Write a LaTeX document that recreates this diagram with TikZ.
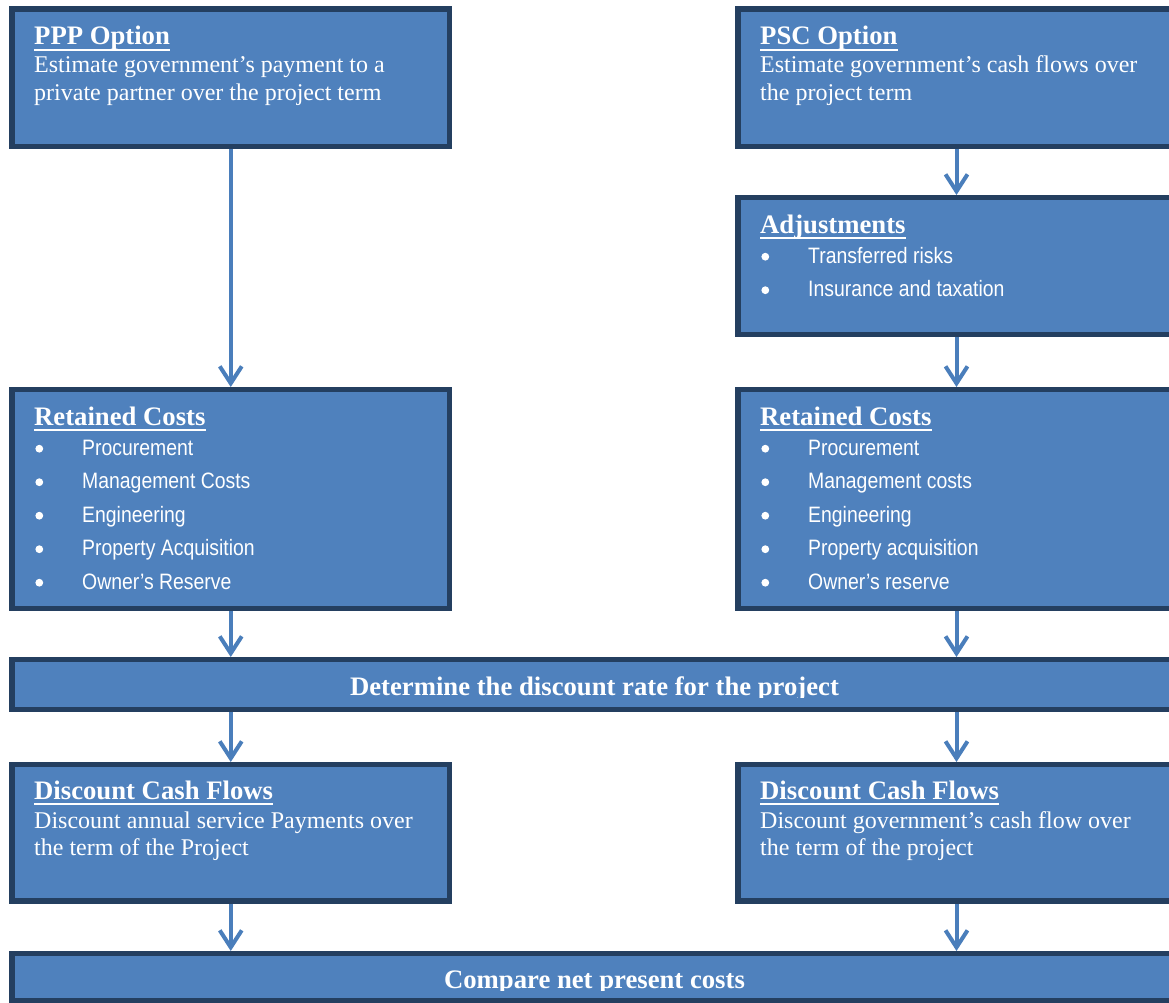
\documentclass[tikz,border=0pt]{standalone}
\usepackage{fontspec}
\setmainfont{Liberation Serif}
\newfontfamily\itemfont[FakeStretch=0.87]{Liberation Sans}
\usetikzlibrary{arrows.meta}
\definecolor{boxfill}{HTML}{4F81BD}
\definecolor{boxline}{HTML}{243F60}
\definecolor{arrowblue}{HTML}{4A7EBB}
\begin{document}
\begin{tikzpicture}[x=1pt,y=-1pt,
  box/.style={draw=boxline, fill=boxfill, line width=5.5pt, rectangle, inner sep=0pt, outer sep=0pt, anchor=north west},
  title/.style={anchor=base west, inner sep=0pt, text=white, font=\bfseries\fontsize{26.7}{30}\selectfont},
  body/.style={anchor=base west, inner sep=0pt, text=white, font=\fontsize{24}{27.5}\selectfont},
  band/.style={anchor=base, inner sep=0pt, text=white, font=\bfseries\fontsize{26.7}{30}\selectfont},
  item/.style={anchor=base west, inner sep=0pt, text=white, font=\itemfont\fontsize{22.3}{26}\selectfont},
  bulletmark/.style={circle, fill=white, inner sep=0pt, minimum size=7.8pt},
  uline/.style={draw=white, line width=2.3pt},
  flow/.style={draw=arrowblue, line width=4pt, -{Straight Barb[length=17pt,width=22pt]}, shorten <=2.75pt, shorten >=2.5pt}
]
\useasboundingbox (0,0) rectangle (1169,1003);
\clip (0,0) rectangle (1169,1003);

% boxes
\node[box, minimum width=437.5, minimum height=137.5] (ppp) at (12,9) {};
\node[box, minimum width=437, minimum height=137.5] (psc) at (738,9) {};
\node[box, minimum width=437, minimum height=137] (adj) at (738,197.5) {};
\node[box, minimum width=437.5, minimum height=219] (retL) at (12,389.5) {};
\node[box, minimum width=437, minimum height=219] (retR) at (738,389.5) {};
\node[box, minimum width=1165, minimum height=50] (rate) at (12,659.5) {};
\node[box, minimum width=437.5, minimum height=136.5] (dcfL) at (12,764.5) {};
\node[box, minimum width=437, minimum height=136.5] (dcfR) at (738,764.5) {};
\node[box, minimum width=1165, minimum height=47.5] (cmp) at (12,953.5) {};

% connectors
\draw[flow] (ppp.south) -- (retL.north);
\draw[flow] (psc.south) -- (adj.north);
\draw[flow] (adj.south) -- (retR.north);
\draw[flow] (retL.south) -- (retL.south |- rate.north);
\draw[flow] (retR.south) -- (retR.south |- rate.north);
\draw[flow] (rate.south -| dcfL.north) -- (dcfL.north);
\draw[flow] (rate.south -| dcfR.north) -- (dcfR.north);
\draw[flow] (dcfL.south) -- (dcfL.south |- cmp.north);
\draw[flow] (dcfR.south) -- (dcfR.south |- cmp.north);

% PPP option
\node[title] (pppT) at (34,45) {PPP Option};
\draw[uline] ([yshift=-5.3pt]pppT.base west) -- ([yshift=-5.3pt]pppT.base east);
\node[body] (pppB1) at (34,73) {Estimate government’s payment to a};
\node[body] (pppB2) at (34,100.5) {private partner over the project term};

% PSC option
\node[title] (pscT) at (760,45) {PSC Option};
\draw[uline] ([yshift=-5.3pt]pscT.base west) -- ([yshift=-5.3pt]pscT.base east);
\node[body] (pscB1) at (760,73) {Estimate government’s cash flows over};
\node[body] (pscB2) at (760,100.5) {the project term};

% Adjustments
\node[title] (adjT) at (760,233) {Adjustments};
\draw[uline] ([yshift=-5.3pt]adjT.base west) -- ([yshift=-5.3pt]adjT.base east);
\foreach \t [count=\i] in {Transferred risks, Insurance and taxation} {
  \node[bulletmark] (ab\i) at (765.3,{263-6.3+33.5*(\i-1)}) {};
  \node[item] (ai\i) at (808,{263+33.5*(\i-1)}) {\t};
}

% Retained costs (left)
\node[title] (rlT) at (34,425) {Retained Costs};
\draw[uline] ([yshift=-5.3pt]rlT.base west) -- ([yshift=-5.3pt]rlT.base east);
\foreach \t [count=\i] in {Procurement, Management Costs, Engineering, Property Acquisition, Owner’s Reserve} {
  \node[bulletmark] (lb\i) at (39.3,{455-6.3+33.5*(\i-1)}) {};
  \node[item] (li\i) at (82,{455+33.5*(\i-1)}) {\t};
}

% Retained costs (right)
\node[title] (rrT) at (760,425) {Retained Costs};
\draw[uline] ([yshift=-5.3pt]rrT.base west) -- ([yshift=-5.3pt]rrT.base east);
\foreach \t [count=\i] in {Procurement, Management costs, Engineering, Property acquisition, Owner’s reserve} {
  \node[bulletmark] (rb\i) at (765.3,{455-6.3+33.5*(\i-1)}) {};
  \node[item] (ri\i) at (808,{455+33.5*(\i-1)}) {\t};
}

% discount rate band
\begin{scope}
  \clip (12,662) rectangle (1177,697.3);
  \node[band] (rateT) at (594.5,695) {Determine the discount rate for the project};
\end{scope}

% Discount cash flows (left)
\node[title] (dlT) at (34,799) {Discount Cash Flows};
\draw[uline] ([yshift=-5.3pt]dlT.base west) -- ([yshift=-5.3pt]dlT.base east);
\node[body] (dlB1) at (34,828) {Discount annual service Payments over};
\node[body] (dlB2) at (34,855.5) {the term of the Project};

% Discount cash flows (right)
\node[title] (drT) at (760,799) {Discount Cash Flows};
\draw[uline] ([yshift=-5.3pt]drT.base west) -- ([yshift=-5.3pt]drT.base east);
\node[body] (drB1) at (760,828) {Discount government’s cash flow over};
\node[body] (drB2) at (760,855.5) {the term of the project};

% compare band
\begin{scope}
  \clip (12,956) rectangle (1177,990.3);
  \node[band] (cmpT) at (594.5,988) {Compare net present costs};
\end{scope}
\end{tikzpicture}
\end{document}
